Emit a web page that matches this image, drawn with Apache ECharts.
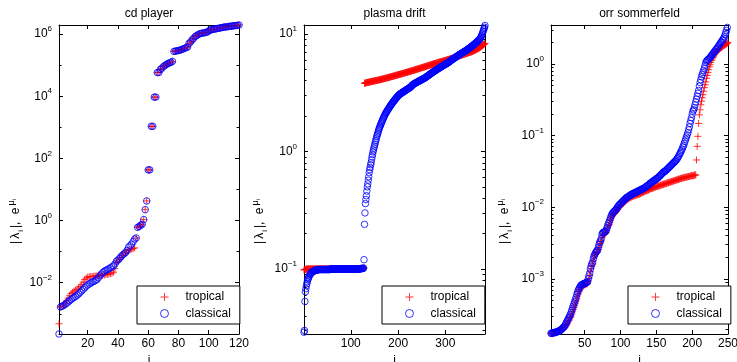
<!DOCTYPE html>
<html>
<head>
<meta charset="utf-8">
<script src="https://cdn.jsdelivr.net/npm/echarts@6/dist/echarts.min.js"></script>
<style>
  html, body { margin: 0; padding: 0; background: #fff; }
  #chart { width: 737px; height: 362px; }
</style>
</head>
<body>
<div id="chart"></div>
<script>
// values; panels 1 and 3 are kept as log10(value)
const cdFirst = 1
const cdTropicalLog = [
  -3.32, -2.78, -2.76, -2.72, -2.66, -2.58, -2.50, -2.42, -2.35, -2.31, -2.27, -2.24, -2.21, -2.17, -2.12, -2.06,
  -1.98, -1.90, -1.85, -1.82, -1.81, -1.80, -1.80, -1.79, -1.79, -1.78, -1.77, -1.76, -1.76, -1.75, -1.75, -1.74,
  -1.73, -1.72, -1.71, -1.69, -1.66, -1.55, -1.35, -1.30, -1.25, -1.19, -1.13, -1.08, -1.03, -0.98, -0.96, -0.94,
  -0.92, -0.90, -0.88, -0.56, -0.22, -0.19, -0.15, -0.12, 0.03, 0.35, 0.63, 1.63, 1.63, 3.03, 3.03, 3.97,
  3.97, 4.76, 4.76, 4.86, 4.90, 4.95, 4.99, 5.02, 5.05, 5.07, 5.09, 5.12, 5.44, 5.45, 5.46, 5.47,
  5.48, 5.50, 5.52, 5.54, 5.56, 5.58, 5.70, 5.75, 5.81, 5.86, 5.92, 5.95, 5.98, 6.01, 6.02, 6.03,
  6.04, 6.05, 6.06, 6.10, 6.13, 6.14, 6.15, 6.16, 6.17, 6.18, 6.19, 6.20, 6.21, 6.22, 6.23, 6.23,
  6.24, 6.25, 6.25, 6.26, 6.27, 6.27, 6.28, 6.29
]
const cdClassicalLog = [
  -3.65, -2.78, -2.76, -2.73, -2.70, -2.66, -2.62, -2.58, -2.54, -2.50, -2.47, -2.44, -2.40, -2.36, -2.31, -2.26,
  -2.21, -2.16, -2.11, -2.07, -2.04, -2.01, -1.98, -1.96, -1.93, -1.90, -1.84, -1.78, -1.72, -1.67, -1.63, -1.60,
  -1.58, -1.55, -1.52, -1.49, -1.46, -1.40, -1.31, -1.27, -1.22, -1.16, -1.11, -1.07, -1.03, -0.96, -0.86, -0.81,
  -0.76, -0.68, -0.60, -0.56, -0.22, -0.19, -0.15, -0.12, 0.03, 0.35, 0.63, 1.63, 1.63, 3.03, 3.03, 3.97,
  3.97, 4.76, 4.76, 4.86, 4.90, 4.95, 4.99, 5.02, 5.05, 5.07, 5.09, 5.12, 5.44, 5.45, 5.46, 5.47,
  5.48, 5.50, 5.52, 5.54, 5.56, 5.58, 5.70, 5.75, 5.81, 5.86, 5.92, 5.95, 5.98, 6.01, 6.02, 6.03,
  6.04, 6.05, 6.06, 6.10, 6.13, 6.14, 6.15, 6.16, 6.17, 6.18, 6.19, 6.20, 6.21, 6.22, 6.23, 6.23,
  6.24, 6.25, 6.25, 6.26, 6.27, 6.27, 6.28, 6.29
]

const plasmaFirst = 1
const plasmaTropical = [
  0.098, 0.099, 0.099, 0.099, 0.099, 0.1, 0.1, 0.1, 0.1, 0.1, 0.1, 0.1, 0.1, 0.1, 0.1, 0.1,
  0.1, 0.1, 0.1, 0.1, 0.1, 0.1, 0.1, 0.1, 0.1, 0.1, 0.1, 0.1, 0.1, 0.1, 0.1, 0.1,
  0.1, 0.1, 0.1, 0.1, 0.1, 0.1, 0.1, 0.1, 0.1, 0.1, 0.1, 0.1, 0.1, 0.1, 0.1, 0.1,
  0.1, 0.1, 0.1, 0.1, 0.1, 0.1, 0.1, 0.1, 0.1, 0.1, 0.1, 0.1, 0.1, 0.1, 0.1, 0.1,
  0.1, 0.1, 0.1, 0.1, 0.1, 0.1, 0.1, 0.1, 0.1, 0.1, 0.1, 0.1, 0.1, 0.1, 0.1, 0.1,
  0.1, 0.1, 0.1, 0.1, 0.1, 0.1, 0.1, 0.1, 0.1, 0.1, 0.1, 0.1, 0.1, 0.1, 0.1, 0.1,
  0.1, 0.1, 0.1, 0.1, 0.1, 0.1, 0.1, 0.1, 0.1, 0.1, 0.1, 0.1, 0.1, 0.1, 0.1, 0.1,
  0.1, 0.1, 0.1, 0.1, 0.1, 0.1, 0.1, 0.1, 0.101, 0.101, 0.101, 0.101, 0.101, 0.101, 0.102, 0.102,
  3.80, 3.81, 3.82, 3.83, 3.84, 3.85, 3.86, 3.87, 3.88, 3.88, 3.89, 3.90, 3.91, 3.92, 3.92, 3.93,
  3.94, 3.95, 3.96, 3.96, 3.97, 3.98, 3.99, 4.00, 4.00, 4.01, 4.02, 4.03, 4.04, 4.04, 4.05, 4.06,
  4.07, 4.08, 4.09, 4.10, 4.11, 4.12, 4.13, 4.14, 4.15, 4.16, 4.17, 4.18, 4.19, 4.20, 4.21, 4.22,
  4.23, 4.24, 4.25, 4.26, 4.27, 4.28, 4.29, 4.31, 4.32, 4.33, 4.34, 4.35, 4.36, 4.37, 4.38, 4.39,
  4.40, 4.42, 4.43, 4.44, 4.45, 4.46, 4.47, 4.49, 4.50, 4.51, 4.52, 4.53, 4.54, 4.56, 4.57, 4.58,
  4.59, 4.60, 4.62, 4.63, 4.64, 4.65, 4.66, 4.68, 4.69, 4.70, 4.72, 4.73, 4.74, 4.76, 4.77, 4.78,
  4.80, 4.81, 4.82, 4.84, 4.85, 4.86, 4.88, 4.89, 4.90, 4.92, 4.93, 4.95, 4.96, 4.97, 4.99, 5.00,
  5.02, 5.03, 5.05, 5.06, 5.08, 5.09, 5.11, 5.12, 5.14, 5.15, 5.17, 5.18, 5.20, 5.21, 5.23, 5.24,
  5.26, 5.27, 5.29, 5.30, 5.32, 5.34, 5.35, 5.37, 5.38, 5.40, 5.42, 5.43, 5.45, 5.46, 5.48, 5.50,
  5.51, 5.53, 5.54, 5.56, 5.58, 5.59, 5.61, 5.62, 5.64, 5.66, 5.67, 5.69, 5.70, 5.72, 5.74, 5.75,
  5.77, 5.78, 5.80, 5.82, 5.83, 5.85, 5.86, 5.88, 5.90, 5.91, 5.93, 5.94, 5.96, 5.98, 5.99, 6.01,
  6.03, 6.04, 6.06, 6.08, 6.10, 6.12, 6.13, 6.15, 6.17, 6.19, 6.21, 6.22, 6.24, 6.26, 6.28, 6.30,
  6.32, 6.34, 6.36, 6.38, 6.40, 6.42, 6.45, 6.47, 6.49, 6.51, 6.53, 6.55, 6.57, 6.59, 6.61, 6.63,
  6.66, 6.68, 6.70, 6.72, 6.74, 6.76, 6.78, 6.80, 6.82, 6.85, 6.87, 6.89, 6.91, 6.93, 6.95, 6.97,
  6.99, 7.01, 7.04, 7.06, 7.08, 7.11, 7.14, 7.17, 7.21, 7.24, 7.28, 7.31, 7.35, 7.38, 7.42, 7.45,
  7.49, 7.52, 7.56, 7.60, 7.65, 7.70, 7.76, 7.82, 7.88, 7.94, 8.00, 8.06, 8.12, 8.18, 8.24, 8.30
]
const plasmaClassical = [
  0.029, 0.030, 0.053, 0.064, 0.068, 0.072, 0.075, 0.078, 0.081, 0.083, 0.085, 0.087, 0.089, 0.090, 0.091, 0.092,
  0.093, 0.094, 0.095, 0.095, 0.096, 0.096, 0.097, 0.097, 0.097, 0.098, 0.098, 0.098, 0.098, 0.098, 0.099, 0.099,
  0.099, 0.099, 0.099, 0.099, 0.099, 0.099, 0.099, 0.099, 0.099, 0.099, 0.099, 0.099, 0.099, 0.099, 0.099, 0.099,
  0.099, 0.099, 0.099, 0.099, 0.099, 0.099, 0.099, 0.099, 0.1, 0.1, 0.1, 0.1, 0.1, 0.1, 0.1, 0.1,
  0.1, 0.1, 0.1, 0.1, 0.1, 0.1, 0.1, 0.1, 0.1, 0.1, 0.1, 0.1, 0.1, 0.1, 0.1, 0.1,
  0.1, 0.1, 0.1, 0.1, 0.1, 0.1, 0.1, 0.1, 0.1, 0.1, 0.1, 0.1, 0.1, 0.1, 0.1, 0.1,
  0.1, 0.1, 0.1, 0.1, 0.1, 0.1, 0.1, 0.1, 0.1, 0.1, 0.1, 0.1, 0.1, 0.1, 0.1, 0.1,
  0.1, 0.1, 0.1, 0.1, 0.1, 0.1, 0.1, 0.1, 0.101, 0.101, 0.101, 0.101, 0.101, 0.101, 0.102, 0.12,
  0.24, 0.30, 0.36, 0.39, 0.42, 0.46, 0.50, 0.53, 0.57, 0.61, 0.66, 0.70, 0.73, 0.77, 0.80, 0.85,
  0.90, 0.94, 0.99, 1.03, 1.07, 1.11, 1.15, 1.20, 1.24, 1.29, 1.34, 1.38, 1.42, 1.47, 1.52, 1.56,
  1.60, 1.64, 1.68, 1.72, 1.76, 1.80, 1.84, 1.88, 1.92, 1.96, 2.00, 2.04, 2.08, 2.12, 2.15, 2.18,
  2.21, 2.25, 2.28, 2.31, 2.35, 2.38, 2.42, 2.45, 2.48, 2.52, 2.55, 2.58, 2.62, 2.65, 2.68, 2.71,
  2.74, 2.78, 2.81, 2.84, 2.87, 2.90, 2.94, 2.97, 3.00, 3.03, 3.05, 3.07, 3.09, 3.11, 3.13, 3.15,
  3.17, 3.19, 3.21, 3.23, 3.25, 3.27, 3.29, 3.31, 3.33, 3.35, 3.37, 3.39, 3.41, 3.43, 3.45, 3.47,
  3.49, 3.52, 3.55, 3.58, 3.62, 3.65, 3.68, 3.71, 3.74, 3.76, 3.78, 3.80, 3.82, 3.84, 3.86, 3.88,
  3.90, 3.92, 3.94, 3.96, 3.98, 4.00, 4.02, 4.04, 4.06, 4.08, 4.10, 4.12, 4.14, 4.16, 4.18, 4.20,
  4.22, 4.25, 4.28, 4.31, 4.34, 4.37, 4.40, 4.43, 4.46, 4.49, 4.52, 4.55, 4.58, 4.61, 4.64, 4.67,
  4.70, 4.73, 4.76, 4.79, 4.82, 4.85, 4.88, 4.91, 4.94, 4.97, 5.00, 5.03, 5.06, 5.09, 5.12, 5.15,
  5.18, 5.21, 5.24, 5.27, 5.30, 5.33, 5.36, 5.39, 5.42, 5.45, 5.48, 5.51, 5.54, 5.57, 5.60, 5.63,
  5.66, 5.70, 5.74, 5.78, 5.82, 5.86, 5.90, 5.94, 5.98, 6.02, 6.06, 6.10, 6.14, 6.18, 6.22, 6.26,
  6.30, 6.34, 6.38, 6.42, 6.46, 6.50, 6.54, 6.58, 6.62, 6.66, 6.70, 6.74, 6.78, 6.82, 6.86, 6.90,
  6.94, 6.98, 7.02, 7.06, 7.10, 7.14, 7.18, 7.22, 7.27, 7.32, 7.37, 7.42, 7.47, 7.52, 7.57, 7.62,
  7.67, 7.72, 7.78, 7.84, 7.90, 7.96, 8.02, 8.08, 8.14, 8.20, 8.27, 8.34, 8.41, 8.48, 8.55, 8.62,
  8.70, 8.78, 8.86, 8.95, 9.05, 9.15, 9.30, 9.50, 9.70, 9.95, 10.2, 10.5, 10.8, 11.1, 11.4, 11.8
]

const orrFirst = 3
const orrTropicalLog = [
  -3.76, -3.76, -3.76, -3.76, -3.75, -3.75, -3.75, -3.75, -3.74, -3.74, -3.74, -3.73, -3.73, -3.72, -3.72, -3.71,
  -3.70, -3.70, -3.69, -3.68, -3.67, -3.65, -3.64, -3.62, -3.60, -3.58, -3.56, -3.54, -3.52, -3.49, -3.46, -3.43,
  -3.40, -3.37, -3.34, -3.31, -3.28, -3.24, -3.21, -3.18, -3.16, -3.14, -3.12, -3.11, -3.10, -3.09, -3.09, -3.08,
  -3.08, -3.07, -3.07, -3.06, -3.03, -2.99, -2.95, -2.90, -2.86, -2.82, -2.79, -2.75, -2.71, -2.68, -2.66, -2.64,
  -2.63, -2.62, -2.59, -2.56, -2.53, -2.50, -2.47, -2.43, -2.40, -2.39, -2.38, -2.37, -2.36, -2.35, -2.32, -2.29,
  -2.26, -2.24, -2.21, -2.18, -2.15, -2.13, -2.11, -2.10, -2.09, -2.08, -2.07, -2.06, -2.04, -2.03, -2.01, -2.00,
  -1.99, -1.98, -1.97, -1.96, -1.95, -1.94, -1.93, -1.92, -1.91, -1.90, -1.89, -1.89, -1.88, -1.87, -1.87, -1.86,
  -1.86, -1.85, -1.85, -1.84, -1.84, -1.84, -1.83, -1.83, -1.83, -1.82, -1.82, -1.82, -1.81, -1.81, -1.80, -1.80,
  -1.79, -1.79, -1.78, -1.78, -1.77, -1.77, -1.77, -1.76, -1.76, -1.75, -1.75, -1.74, -1.74, -1.74, -1.73, -1.73,
  -1.72, -1.72, -1.72, -1.71, -1.71, -1.71, -1.70, -1.70, -1.70, -1.69, -1.69, -1.69, -1.68, -1.68, -1.68, -1.67,
  -1.67, -1.67, -1.66, -1.66, -1.66, -1.65, -1.65, -1.65, -1.64, -1.64, -1.64, -1.63, -1.63, -1.63, -1.62, -1.62,
  -1.62, -1.61, -1.61, -1.61, -1.60, -1.60, -1.60, -1.59, -1.59, -1.59, -1.59, -1.58, -1.58, -1.58, -1.58, -1.57,
  -1.57, -1.57, -1.57, -1.56, -1.56, -1.56, -1.56, -1.56, -1.55, -1.55, -1.55, -1.34, -1.15, -1.01, -0.83, -0.71,
  -0.64, -0.57, -0.52, -0.47, -0.43, -0.38, -0.33, -0.29, -0.25, -0.20, -0.16, -0.12, -0.08, -0.04, -0.01, 0.02,
  0.05, 0.07, 0.09, 0.11, 0.13, 0.15, 0.16, 0.17, 0.18, 0.19, 0.20, 0.21, 0.22, 0.23, 0.23, 0.24,
  0.25, 0.26, 0.26, 0.27, 0.28, 0.28, 0.29, 0.30
]
const orrClassicalLog = [
  -3.76, -3.76, -3.76, -3.75, -3.75, -3.75, -3.75, -3.74, -3.74, -3.74, -3.73, -3.73, -3.72, -3.72, -3.71, -3.70,
  -3.69, -3.68, -3.67, -3.66, -3.64, -3.62, -3.60, -3.58, -3.56, -3.54, -3.52, -3.50, -3.47, -3.44, -3.41, -3.38,
  -3.35, -3.32, -3.29, -3.26, -3.22, -3.19, -3.16, -3.14, -3.12, -3.10, -3.09, -3.08, -3.08, -3.07, -3.07, -3.06,
  -3.06, -3.05, -3.05, -3.04, -3.00, -2.96, -2.92, -2.86, -2.82, -2.79, -2.77, -2.72, -2.68, -2.66, -2.64, -2.62,
  -2.61, -2.60, -2.56, -2.52, -2.49, -2.47, -2.44, -2.38, -2.36, -2.35, -2.35, -2.34, -2.34, -2.32, -2.29, -2.26,
  -2.23, -2.21, -2.18, -2.15, -2.12, -2.10, -2.08, -2.07, -2.06, -2.05, -2.04, -2.03, -2.01, -2.00, -1.98, -1.97,
  -1.96, -1.95, -1.94, -1.93, -1.92, -1.91, -1.90, -1.89, -1.88, -1.87, -1.86, -1.86, -1.85, -1.84, -1.84, -1.83,
  -1.82, -1.82, -1.81, -1.81, -1.80, -1.80, -1.79, -1.79, -1.78, -1.78, -1.77, -1.77, -1.76, -1.76, -1.75, -1.75,
  -1.74, -1.74, -1.73, -1.73, -1.72, -1.71, -1.70, -1.70, -1.69, -1.68, -1.67, -1.66, -1.66, -1.65, -1.64, -1.63,
  -1.63, -1.62, -1.61, -1.60, -1.60, -1.59, -1.58, -1.57, -1.56, -1.55, -1.54, -1.53, -1.52, -1.51, -1.50, -1.50,
  -1.49, -1.48, -1.47, -1.46, -1.45, -1.44, -1.43, -1.42, -1.41, -1.40, -1.39, -1.38, -1.37, -1.36, -1.35, -1.34,
  -1.32, -1.31, -1.29, -1.27, -1.25, -1.23, -1.21, -1.19, -1.16, -1.14, -1.11, -1.08, -1.05, -1.02, -0.99, -0.96,
  -0.92, -0.88, -0.83, -0.79, -0.75, -0.70, -0.66, -0.64, -0.61, -0.57, -0.53, -0.49, -0.45, -0.41, -0.37, -0.31,
  -0.26, -0.22, -0.18, -0.15, -0.12, -0.09, -0.06, -0.02, 0.02, 0.04, 0.05, 0.06, 0.07, 0.08, 0.09, 0.10,
  0.12, 0.13, 0.14, 0.16, 0.17, 0.18, 0.20, 0.21, 0.22, 0.24, 0.25, 0.27, 0.28, 0.30, 0.31, 0.33,
  0.34, 0.36, 0.38, 0.41, 0.44, 0.47, 0.51, 0.55
]

const titles = ['cd player', 'plasma drift', 'orr sommerfeld']
const cdXTicks = [20, 40, 60, 80, 100, 120]
const plasmaXTicks = [100, 200, 300]
const orrXTicks = [50, 100, 150, 200, 250]
const cdYTicks = [1e-2, 1, 1e2, 1e4, 1e6]
const plasmaYTicks = [0.1, 1, 10]
const orrYTicks = [1e-3, 1e-2, 1e-1, 1]

const FONT = '"Liberation Sans", Arial, Helvetica, sans-serif'
const PLUS = 'path://M5,0L5,10M0,5L10,5'
// filled outline of a plus, for the legend icon
const PLUS_ICON = 'path://M4.4,0H5.6V4.4H10V5.6H5.6V10H4.4V5.6H0V4.4H4.4Z'

// minor tick marks of a matlab log axis: 2..9 times each decade
function decadeMinors(lo, hi) {
  const out = []
  for (let e = lo; e <= hi; e++) {
    for (let m = 2; m <= 9; m++) out.push(m * Math.pow(10, e))
  }
  return out
}

const fromLog = (vals, first) => vals.map((v, k) => [first + k, Math.pow(10, v)])
const plain = (vals, first) => vals.map((v, k) => [first + k, v])

const panels = [
  {
    title: titles[0], left: 59, width: 180, xMin: 1, xMax: 120, xTicks: cdXTicks,
    yMin: 2.24e-4, yMax: 1.95e6, yTicks: cdYTicks, yMinor: [1e-3, 1e-1, 10, 1e3, 1e5],
    tropical: fromLog(cdTropicalLog, cdFirst), classical: fromLog(cdClassicalLog, cdFirst),
    labelX: 16, legendLeft: 137,
  },
  {
    title: titles[1], left: 304, width: 181, xMin: 1, xMax: 384, xTicks: plasmaXTicks,
    yMin: 0.028, yMax: 11.9, yTicks: plasmaYTicks, yMinor: decadeMinors(-2, 0),
    tropical: plain(plasmaTropical, plasmaFirst), classical: plain(plasmaClassical, plasmaFirst),
    labelX: 260, legendLeft: 382,
  },
  {
    title: titles[2], left: 551, width: 177, xMin: 3, xMax: 250, xTicks: orrXTicks,
    yMin: 1.7e-4, yMax: 3.5, yTicks: orrYTicks, yMinor: decadeMinors(-4, 0),
    tropical: fromLog(orrTropicalLog, orrFirst), classical: fromLog(orrClassicalLog, orrFirst),
    labelX: 505, legendLeft: 628,
  },
]

const TOP = 25
const HEIGHT = 309

function powLabel(v) {
  const e = Math.round(Math.log10(v))
  return '{b|10}{s|' + (e < 0 ? '\u2212' + (-e) : String(e)) + '}'
}

const chart = echarts.init(document.getElementById('chart'))

const grid = []
const xAxis = []
const yAxis = []
const series = []
const legend = []
const graphic = []

panels.forEach((p, k) => {
  grid.push({ left: p.left, top: TOP, width: p.width, height: HEIGHT, containLabel: false, outerBoundsMode: 'none' })

  const xCommon = {
    type: 'value', gridIndex: k, min: p.xMin, max: p.xMax,
    splitLine: { show: false },
    axisLine: { show: true, onZero: false, lineStyle: { color: '#000', width: 1 } },
    axisTick: { show: true, inside: true, length: 4, customValues: p.xTicks, lineStyle: { color: '#000' } },
  }
  xAxis.push(Object.assign({}, xCommon, {
    position: 'bottom',
    axisLabel: { show: true, customValues: p.xTicks, margin: 4, color: '#000', fontSize: 12, fontFamily: FONT },
    name: 'i', nameLocation: 'middle', nameGap: 15,
    nameTextStyle: { color: '#000', fontSize: 12, fontFamily: FONT },
  }))
  xAxis.push(Object.assign({}, xCommon, { position: 'top', axisLabel: { show: false } }))

  const yCommon = {
    type: 'log', logBase: 10, gridIndex: k, min: p.yMin, max: p.yMax,
    splitLine: { show: false },
    axisLabel: { show: false },
  }
  const major = { show: true, inside: true, length: 4, customValues: p.yTicks, lineStyle: { color: '#000' } }
  const minor = { show: true, inside: true, length: 2.5, customValues: p.yMinor, lineStyle: { color: '#000' } }
  const line = { show: true, onZero: false, lineStyle: { color: '#000', width: 1 } }
  yAxis.push(Object.assign({}, yCommon, {
    position: 'left', axisLine: line, axisTick: major,
    axisLabel: {
      show: true, customValues: p.yTicks, margin: 7, formatter: powLabel,
      rich: {
        b: { fontSize: 12, color: '#000', fontFamily: FONT, padding: [3, 0, 3, 0], verticalAlign: 'middle' },
        s: { fontSize: 8, color: '#000', fontFamily: FONT, verticalAlign: 'top' },
      },
    },
  }))
  yAxis.push(Object.assign({}, yCommon, { position: 'right', axisLine: line, axisTick: major }))
  yAxis.push(Object.assign({}, yCommon, { position: 'left', axisLine: { show: false }, axisTick: minor }))
  yAxis.push(Object.assign({}, yCommon, { position: 'right', axisLine: { show: false }, axisTick: minor }))

  series.push({
    name: 'tropical', type: 'scatter', xAxisIndex: 2 * k, yAxisIndex: 4 * k,
    data: p.tropical, symbol: PLUS, symbolSize: 7,
    itemStyle: { color: 'none', borderColor: '#ff0000', borderWidth: 1 },
    emphasis: { disabled: true }, silent: true,
  })
  series.push({
    name: 'classical', type: 'scatter', xAxisIndex: 2 * k, yAxisIndex: 4 * k,
    data: p.classical, symbol: 'circle', symbolSize: 6.5,
    itemStyle: { color: 'none', borderColor: '#0000ff', borderWidth: 1 },
    emphasis: { disabled: true }, silent: true,
  })

  legend.push({
    left: p.legendLeft, top: 286, orient: 'vertical',
    data: [
      { name: 'tropical', icon: PLUS_ICON, itemStyle: { color: '#ff0000', borderWidth: 0 } },
      { name: 'classical', icon: 'circle', itemStyle: { color: 'none', borderColor: '#0000ff', borderWidth: 1 } },
    ],
    itemWidth: 8, itemHeight: 8, itemGap: 4,
    padding: [5, 9, 4, 21],
    borderColor: '#000', borderWidth: 1, backgroundColor: '#fff',
    selectedMode: false,
    textStyle: { fontSize: 12, color: '#000', fontFamily: FONT, lineHeight: 12, padding: [0, 0, 0, 12] },
  })

  graphic.push({
    type: 'text', x: p.left + p.width / 2, y: 14,
    style: { text: p.title, font: '12px ' + FONT, fill: '#000', align: 'center', verticalAlign: 'middle' },
  })
  // ylabel |λ_i|, e^{μ_i}, set with tex-like spacing
  graphic.push({
    type: 'text', x: p.labelX, y: 222, rotation: Math.PI / 2,
    style: {
      text: '{b||}{b|\u03bb}{s|i}{b||,}{g| }{b|e}{u|\u03bc}{v|i}',
      align: 'center', verticalAlign: 'middle', fill: '#000',
      rich: {
        b: { fontSize: 12, fontFamily: FONT, fill: '#000', padding: [3, 1, 3, 1] },
        g: { fontSize: 12, fontFamily: FONT, fill: '#000', padding: [3, 1, 3, 1] },
        s: { fontSize: 8, fontFamily: FONT, fill: '#000', verticalAlign: 'bottom', padding: [0, 1, 0, 0] },
        u: { fontSize: 9, fontFamily: FONT, fill: '#000', verticalAlign: 'top', padding: [0, 0, 0, 1] },
        v: { fontSize: 6, fontFamily: FONT, fill: '#000', verticalAlign: 'top', padding: [4, 0, 0, 0] },
      },
    },
  })
})

chart.setOption({
  animation: false,
  backgroundColor: '#fff',
  textStyle: { fontFamily: FONT },
  grid, xAxis, yAxis, series, legend, graphic,
})
</script>
</body>
</html>
